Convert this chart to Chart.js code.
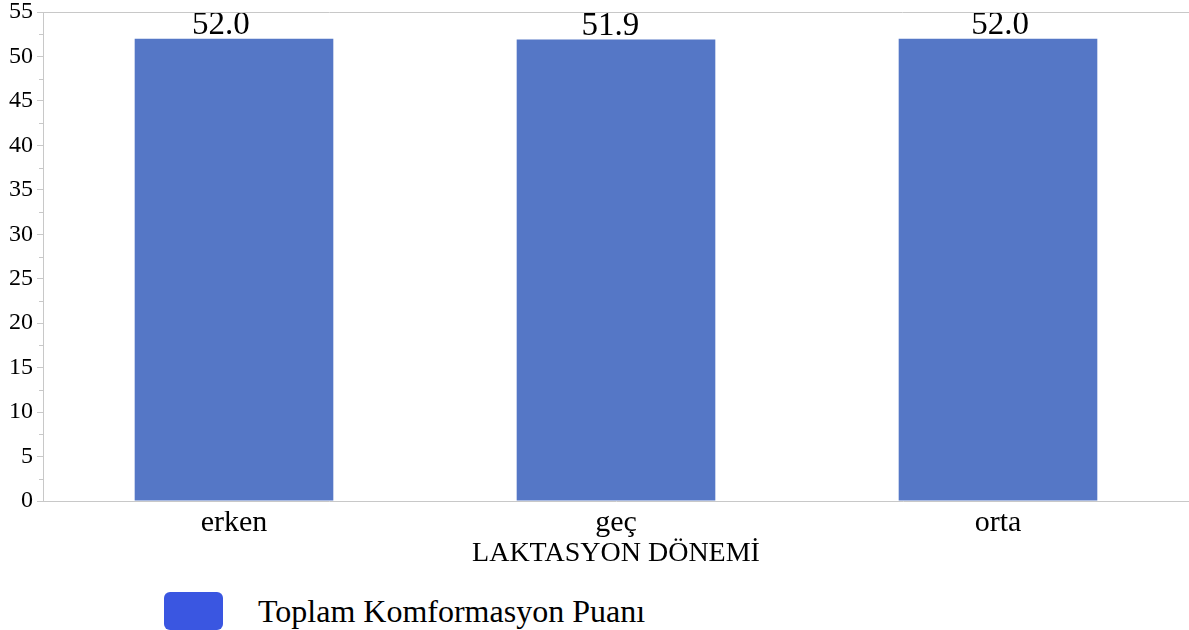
<!DOCTYPE html>
<html>
<head>
<meta charset="utf-8">
<script src="https://cdn.jsdelivr.net/npm/chart.js@4.4.0/dist/chart.umd.min.js"></script>
<style>
  html, body { margin: 0; padding: 0; background: #fff; }
  #wrap { position: relative; width: 1189px; height: 630px; overflow: hidden; }
  #chartBox { position: absolute; left: 0; top: 0; width: 1189px; height: 570px; }
  #legend { position: absolute; left: 164px; top: 592px; height: 38px; display: flex; align-items: center;
            font-family: "Liberation Serif", "Times New Roman", serif; font-size: 32px; color: #000; }
  #legend .swatch { width: 59px; height: 38px; border-radius: 6px; background: #3a56e1; margin-right: 35px; }
</style>
</head>
<body>
<div id="wrap">
  <div id="chartBox"><canvas id="komfChart"></canvas></div>
  <div id="legend"><div class="swatch"></div><span>Toplam Komformasyon Puanı</span></div>
</div>
<script>
const kategoriler = ['erken', 'geç', 'orta'];
const puanlar = [52.0, 51.9, 52.0];
const yTikler = [0, 5, 10, 15, 20, 25, 30, 35, 40, 45, 50, 55];

const serif = '"Liberation Serif", "Times New Roman", serif';

// bar ustundeki degerler + ara tikler + ust cizgi
const ekstraCizim = {
    id: 'ekstraCizim',
    afterDatasetsDraw(chart) {
        const ctx = chart.ctx;
        const area = chart.chartArea;
        const meta = chart.getDatasetMeta(0);
        ctx.save();
        ctx.fillStyle = '#000';
        ctx.font = '33px ' + serif;
        ctx.textAlign = 'center';
        ctx.textBaseline = 'alphabetic';
        meta.data.forEach((bar, i) => {
            // etiketler biraz farkli bir olcekte yerlesiyor
            const lx = area.left + (bar.x - area.left) * 1.02 - 17;
            ctx.fillText(puanlar[i].toFixed(1), lx, bar.y - 5);
        });
        ctx.restore();
    },
    afterDraw(chart) {
        const ctx = chart.ctx;
        const area = chart.chartArea;
        const y = chart.scales.y;
        ctx.save();
        ctx.strokeStyle = '#c8c8c8';
        ctx.lineWidth = 1;
        // ust cerceve
        ctx.beginPath();
        ctx.moveTo(area.left, Math.round(area.top) + 0.5);
        ctx.lineTo(chart.width, Math.round(area.top) + 0.5);
        ctx.stroke();
        // ara tikler (2.5'lik)
        for (let i = 0; i < yTikler.length - 1; i++) {
            const py = Math.round(y.getPixelForValue(yTikler[i] + 2.5)) + 0.5;
            ctx.beginPath();
            ctx.moveTo(area.left - 4, py);
            ctx.lineTo(area.left, py);
            ctx.stroke();
        }
        ctx.restore();
    }
};

const ctx = document.getElementById('komfChart').getContext('2d');
new Chart(ctx, {
    type: 'bar',
    data: {
        labels: kategoriler,
        datasets: [{
            label: 'Toplam Komformasyon Puanı',
            data: puanlar,
            backgroundColor: '#5577c6',
            borderWidth: 0,
            barPercentage: 1,
            categoryPercentage: 0.52
        }]
    },
    options: {
        responsive: true,
        maintainAspectRatio: false,
        animation: false,
        layout: { padding: { top: 12, right: 0, bottom: 0, left: 0 } },
        plugins: {
            legend: { display: false },
            tooltip: { enabled: false }
        },
        scales: {
            x: {
                grid: { display: false },
                border: { color: '#c8c8c8' },
                ticks: { color: '#000', font: { family: serif, size: 30 }, padding: -4 },
                title: {
                    display: true,
                    text: 'LAKTASYON DÖNEMİ',
                    color: '#000',
                    font: { family: serif, size: 28 },
                    padding: { top: -4, bottom: 0 }
                },
                afterFit: (scale) => {
                    scale.height = 69;
                    scale.paddingLeft = 0;
                    scale.paddingRight = 0;
                }
            },
            y: {
                min: 0,
                max: 55,
                afterBuildTicks: (scale) => { scale.ticks = yTikler.map(v => ({ value: v })); },
                grid: { drawOnChartArea: false, drawTicks: true, tickLength: 6, color: '#c8c8c8' },
                border: { color: '#c8c8c8' },
                ticks: { color: '#000', font: { family: serif, size: 24 }, padding: 4 },
                afterFit: (scale) => {
                    scale.width = 43;
                    scale.paddingTop = 0;
                    scale.paddingBottom = 0;
                }
            }
        }
    },
    plugins: [ekstraCizim]
});
</script>
</body>
</html>
